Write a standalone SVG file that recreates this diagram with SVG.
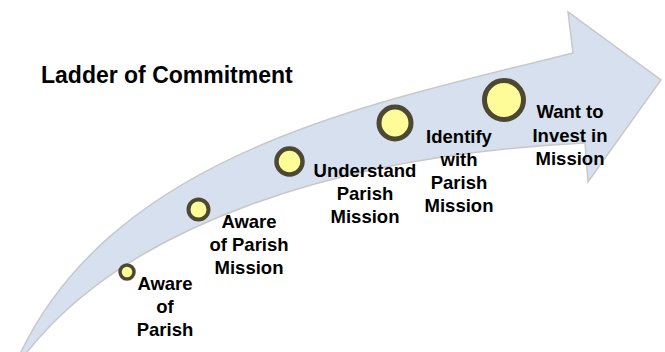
<svg xmlns="http://www.w3.org/2000/svg" width="665" height="352" viewBox="0 0 665 352">
  <style>
    .band { fill: #d6e0ee; stroke: #c8c8c8; stroke-width: 1.5; stroke-linejoin: miter; }
    .dot { fill: #fdfc98; stroke: #4d4833; }
    .lbl { font-family: "Liberation Sans", Arial, sans-serif; font-weight: bold; font-size: 18.5px; fill: #000; text-anchor: middle; }
    .title { font-family: "Liberation Sans", Arial, sans-serif; font-weight: bold; font-size: 23px; fill: #000; }
  </style>
  <rect width="665" height="352" fill="#ffffff"/>
  <g id="connectors">
    <path class="band" d="M19,356 C115,152 373,103 573,53 L568,12 L661,80 L588,182 L585,143 C335,155.5 124,226 24,356 Z"/>
  </g>
  <g id="title">
    <text class="title" x="41" y="83">Ladder of Commitment</text>
  </g>
  <g id="step1">
    <circle class="dot" cx="127" cy="272" r="7" stroke-width="3.5"/>
    <text class="lbl" x="165" y="290">Aware</text>
    <text class="lbl" x="165" y="313">of</text>
    <text class="lbl" x="165" y="336">Parish</text>
  </g>
  <g id="step2">
    <circle class="dot" cx="198.5" cy="209.5" r="10" stroke-width="4"/>
    <text class="lbl" x="249" y="228">Aware</text>
    <text class="lbl" x="249" y="251">of Parish</text>
    <text class="lbl" x="249" y="274">Mission</text>
  </g>
  <g id="step3">
    <circle class="dot" cx="289.5" cy="161.5" r="13" stroke-width="4.5"/>
    <text class="lbl" x="365" y="177">Understand</text>
    <text class="lbl" x="365" y="200">Parish</text>
    <text class="lbl" x="365" y="223">Mission</text>
  </g>
  <g id="step4">
    <circle class="dot" cx="395" cy="123" r="16" stroke-width="5"/>
    <text class="lbl" x="459" y="143">Identify</text>
    <text class="lbl" x="459" y="166">with</text>
    <text class="lbl" x="459" y="189">Parish</text>
    <text class="lbl" x="459" y="212">Mission</text>
  </g>
  <g id="step5">
    <circle class="dot" cx="504" cy="100" r="19.5" stroke-width="5"/>
    <text class="lbl" x="570" y="118">Want to</text>
    <text class="lbl" x="570" y="141.5">Invest in</text>
    <text class="lbl" x="570" y="165">Mission</text>
  </g>
</svg>
